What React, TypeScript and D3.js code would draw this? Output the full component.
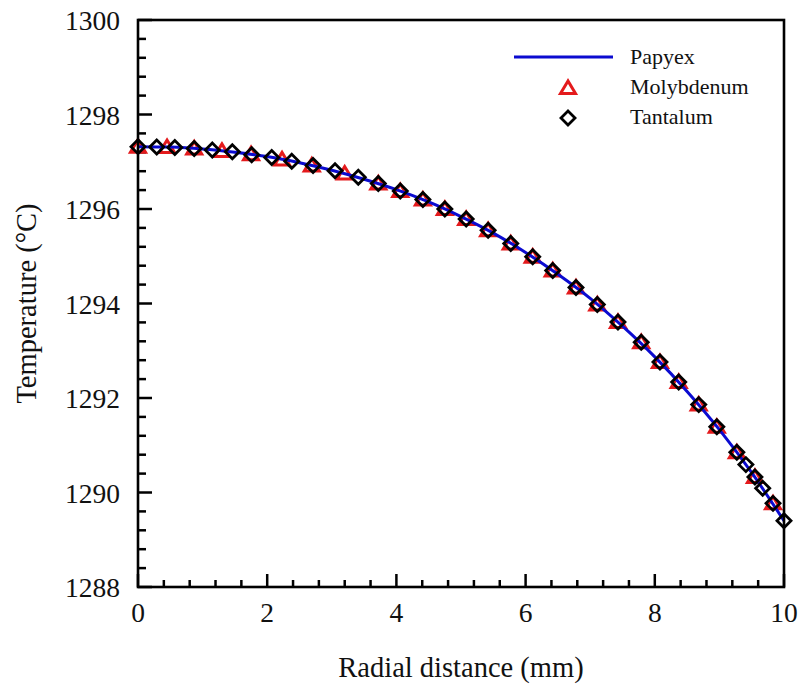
import React from "react";
import * as d3 from "d3";

const papyexR = [0, 0.5, 1, 1.5, 2, 2.5, 3, 3.5, 4, 4.5, 5, 5.5, 6, 6.5, 7, 7.5, 8, 8.5, 9, 9.5, 10];
const papyexT = [1297.32, 1297.31, 1297.27, 1297.2, 1297.11, 1296.98, 1296.82, 1296.63, 1296.41, 1296.15, 1295.84, 1295.49, 1295.08, 1294.62, 1294.11, 1293.52, 1292.87, 1292.14, 1291.33, 1290.42, 1289.4];

const molyR = [0, 0.45, 0.87, 1.3, 1.75, 2.23, 2.69, 3.2, 3.72, 4.06, 4.41, 4.75, 5.08, 5.42, 5.77, 6.11, 6.42, 6.78, 7.11, 7.43, 7.79, 8.08, 8.37, 8.68, 8.96, 9.27, 9.55, 9.83];
const molyT = [1297.32, 1297.31, 1297.28, 1297.23, 1297.16, 1297.05, 1296.92, 1296.75, 1296.54, 1296.38, 1296.2, 1296.0, 1295.79, 1295.55, 1295.27, 1294.99, 1294.7, 1294.34, 1293.98, 1293.61, 1293.18, 1292.76, 1292.34, 1291.86, 1291.39, 1290.85, 1290.33, 1289.77];

const tantR = [0, 0.29, 0.57, 0.87, 1.15, 1.46, 1.76, 2.07, 2.38, 2.71, 3.05, 3.41, 3.72, 4.06, 4.41, 4.75, 5.08, 5.42, 5.77, 6.11, 6.42, 6.78, 7.11, 7.43, 7.79, 8.08, 8.37, 8.68, 8.96, 9.27, 9.41, 9.55, 9.67, 9.83, 10];
const tantT = [1297.32, 1297.31, 1297.3, 1297.28, 1297.25, 1297.21, 1297.15, 1297.09, 1297.01, 1296.92, 1296.81, 1296.67, 1296.54, 1296.38, 1296.2, 1296.0, 1295.79, 1295.55, 1295.27, 1294.99, 1294.7, 1294.34, 1293.98, 1293.61, 1293.18, 1292.76, 1292.34, 1291.86, 1291.39, 1290.85, 1290.59, 1290.33, 1290.09, 1289.77, 1289.4];

const xTicks = [0, 2, 4, 6, 8, 10];
const yTicks = [1288, 1290, 1292, 1294, 1296, 1298, 1300];
const seriesNames = ["Papyex", "Molybdenum", "Tantalum"];
const xTitle = "Radial distance (mm)";
const yTitle = "Temperature (°C)";

const BLUE = "#0b0bd0";
const RED = "#e41a1c";
const FONT = "'Liberation Serif', 'Times New Roman', serif";

export default function App() {
  const L = 138, R = 784, T = 20, B = 587;
  const x = d3.scaleLinear().domain([0, 10]).range([L, R]);
  const y = d3.scaleLinear().domain([1288, 1300]).range([B, T]);

  const line = d3
    .line<number>()
    .x((_, i) => x(papyexR[i]))
    .y((d) => y(d))
    .curve(d3.curveMonotoneX);

  const xMinor = d3.range(0, 10.001, 0.4).filter((v) => Math.abs(v / 2 - Math.round(v / 2)) > 1e-6);
  const yMinor = d3.range(1288, 1300.001, 0.4).filter((v) => Math.abs(v / 2 - Math.round(v / 2)) > 1e-6);

  const tri = (cx: number, cy: number) =>
    `M${cx},${cy - 7}L${cx - 7.5},${cy + 5.5}L${cx + 7.5},${cy + 5.5}Z`;
  const dia = (cx: number, cy: number) =>
    `M${cx},${cy - 7}L${cx + 7},${cy}L${cx},${cy + 7}L${cx - 7},${cy}Z`;

  return (
    <svg width={801} height={686} style={{ position: "absolute", left: 0, top: 0, background: "#fff" }}>
      <rect x={0} y={0} width={801} height={686} fill="#fff" />
      {/* ticks */}
      <g stroke="#000" strokeWidth={2.5}>
        {xTicks.map((v) => (
          <line key={"xm" + v} x1={x(v)} x2={x(v)} y1={B} y2={B - 13} />
        ))}
        {xMinor.map((v, i) => (
          <line key={"xn" + i} x1={x(v)} x2={x(v)} y1={B} y2={B - 7} />
        ))}
        {yTicks.map((v) => (
          <line key={"ym" + v} x1={L} x2={L + 14} y1={y(v)} y2={y(v)} />
        ))}
        {yMinor.map((v, i) => (
          <line key={"yn" + i} x1={L} x2={L + 8} y1={y(v)} y2={y(v)} />
        ))}
      </g>
      {/* data */}
      <g fill="none" stroke={RED} strokeWidth={3} strokeLinejoin="miter">
        {molyR.map((r, i) => (
          <path key={"m" + i} d={tri(x(r), y(molyT[i]))} />
        ))}
      </g>
      <path d={line(papyexT) || ""} fill="none" stroke={BLUE} strokeWidth={3} />
      <g fill="none" stroke="#000" strokeWidth={2.8} strokeLinejoin="miter">
        {tantR.map((r, i) => (
          <path key={"t" + i} d={dia(x(r), y(tantT[i]))} />
        ))}
      </g>
      {/* frame */}
      <rect x={L} y={T} width={R - L} height={B - T} fill="none" stroke="#000" strokeWidth={2.6} />
      {/* tick labels */}
      <g fontFamily={FONT} fontSize={27.5} fill="#111">
        {xTicks.map((v) => (
          <text key={"xl" + v} x={x(v)} y={622} textAnchor="middle">
            {v}
          </text>
        ))}
        {yTicks.map((v) => (
          <text key={"yl" + v} x={120} y={y(v) + 10} textAnchor="end">
            {v}
          </text>
        ))}
      </g>
      {/* axis titles */}
      <text x={(L + R) / 2} y={677} textAnchor="middle" fontFamily={FONT} fontSize={28.5} fill="#111">
        {xTitle}
      </text>
      <text
        transform={`translate(36,${(T + B) / 2}) rotate(-90)`}
        textAnchor="middle"
        fontFamily={FONT}
        fontSize={28.5}
        fill="#111"
      >
        {yTitle}
      </text>
      {/* legend */}
      <g fontFamily={FONT} fontSize={22} fill="#111">
        <line x1={514} x2={613} y1={57} y2={57} stroke={BLUE} strokeWidth={3} />
        <text x={630} y={64}>{seriesNames[0]}</text>
        <path d={tri(568, 88)} fill="none" stroke={RED} strokeWidth={3} />
        <text x={630} y={94}>{seriesNames[1]}</text>
        <path d={dia(568, 118)} fill="none" stroke="#000" strokeWidth={2.8} />
        <text x={630} y={124}>{seriesNames[2]}</text>
      </g>
    </svg>
  );
}
